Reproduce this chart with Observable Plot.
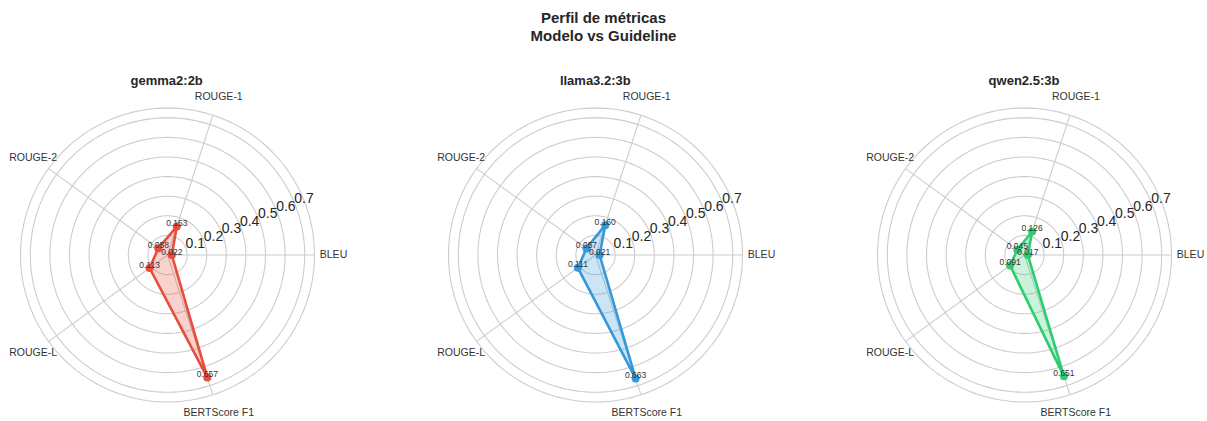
<!DOCTYPE html>
<html><head><meta charset="utf-8">
<script src="https://cdn.jsdelivr.net/npm/d3@7"></script>
<script src="https://cdn.jsdelivr.net/npm/@observablehq/plot@0.6"></script>
<style>
body{margin:0;background:#fff;font-family:"Liberation Sans",Arial,sans-serif;overflow:hidden}
#root{position:relative;width:1207px;height:421px;overflow:hidden;background:#fff}
.title{position:absolute;left:0;width:1207px;top:9px;text-align:center;font-weight:bold;font-size:15px;line-height:18px;color:#262626}
.sub{position:absolute;width:200px;text-align:center;font-weight:bold;font-size:13px;line-height:16px;color:#262626;top:73px}
.panel{position:absolute;top:60px}
</style></head><body><div id="root"></div>
<script>
const models = ["gemma2:2b", "llama3.2:3b", "qwen2.5:3b"];
const metrics = ["BLEU", "ROUGE-1", "ROUGE-2", "ROUGE-L", "BERTScore F1"];
const gemmaValues = [0.022, 0.153, 0.058, 0.113, 0.657];
const llamaValues = [0.021, 0.160, 0.057, 0.111, 0.663];
const qwenValues = [0.017, 0.126, 0.045, 0.091, 0.651];
const modelColors = ["#e74c3c", "#3498db", "#2ecc71"];
const ringTicks = [0.1, 0.2, 0.3, 0.4, 0.5, 0.6, 0.7];
const rMax = 0.75;

const seriesValues = [gemmaValues, llamaValues, qwenValues];
const root = document.getElementById("root");

// layout (pixels)
const W = 350, H = 361, CX = 160, CY = 194.5, K = 196;
const panelCenters = [166.7, 595.3, 1024];

const title = document.createElement("div");
title.className = "title";
title.innerHTML = "Perfil de métricas<br>Modelo vs Guideline";
root.appendChild(title);

const angle = i => (2 * Math.PI * i) / metrics.length;
const fmt = d3.format(".3f");

// ring geometry
const ringLevels = [...ringTicks, rMax];
const ringPts = [];
for (const r of ringLevels) {
  for (let a = 0; a < 360; a += 2) {
    const t = (a * Math.PI) / 180;
    ringPts.push({ r, x: r * Math.cos(t), y: r * Math.sin(t) });
  }
}
const spokes = metrics.map((m, i) => ({ x: rMax * Math.cos(angle(i)), y: rMax * Math.sin(angle(i)) }));
const labelR = 166 / K;
const catLabels = metrics.map((m, i) => ({ m, x: labelR * Math.cos(angle(i)), y: labelR * Math.sin(angle(i)) }));
const rlabAng = (22.5 * Math.PI) / 180;
const rLabels = ringTicks.map(r => ({ t: String(r), x: r * Math.cos(rlabAng), y: r * Math.sin(rlabAng) }));

models.forEach((model, mi) => {
  const vals = seriesValues[mi];
  const pts = metrics.map((m, i) => ({
    m, v: vals[i],
    x: vals[i] * Math.cos(angle(i)),
    y: vals[i] * Math.sin(angle(i))
  }));
  const color = modelColors[mi];
  const chart = Plot.plot({
    width: W, height: H,
    margin: 0,
    x: { domain: [-CX / K, (W - CX) / K], range: [0, W], axis: null },
    y: { domain: [-(H - CY) / K, CY / K], range: [H, 0], axis: null },
    style: { fontFamily: '"Liberation Sans", Arial, sans-serif', background: "transparent", overflow: "visible" },
    marks: [
      Plot.line(ringPts, { x: "x", y: "y", z: "r", curve: "linear-closed", stroke: "#cccccc", strokeWidth: 1.1 }),
      Plot.link(spokes, { x1: 0, y1: 0, x2: "x", y2: "y", stroke: "#cccccc", strokeWidth: 1.1 }),
      Plot.text(rLabels, { x: "x", y: "y", text: "t", textAnchor: "start", lineAnchor: "bottom", dy: 1, fontSize: 14, fill: "#262626" }),
      Plot.text(catLabels, { x: "x", y: "y", text: "m", textAnchor: "middle", lineAnchor: "middle", fontSize: 10.5, fill: "#333" }),
      Plot.area(pts, { x1: "x", y1: "y", x2: 0, y2: 0, curve: "linear-closed", fill: color, fillOpacity: 0.25 }),
      Plot.line(pts, { x: "x", y: "y", curve: "linear-closed", stroke: color, strokeWidth: 2.6, strokeLinejoin: "round" }),
      Plot.dot(pts, { x: "x", y: "y", r: 4, fill: color, stroke: "none" }),
      Plot.text(pts, { x: "x", y: "y", text: d => fmt(d.v), textAnchor: "middle", lineAnchor: "bottom", dy: -0.5, fontSize: 8.5, fill: "#333" })
    ]
  });
  chart.classList.add("panel");
  chart.style.left = (panelCenters[mi] - CX) + "px";
  chart.style.position = "absolute";
  chart.style.top = "60px";
  root.appendChild(chart);

  const sub = document.createElement("div");
  sub.className = "sub";
  sub.textContent = model;
  sub.style.left = (panelCenters[mi] - 100) + "px";
  root.appendChild(sub);
});
</script>
</body></html>
